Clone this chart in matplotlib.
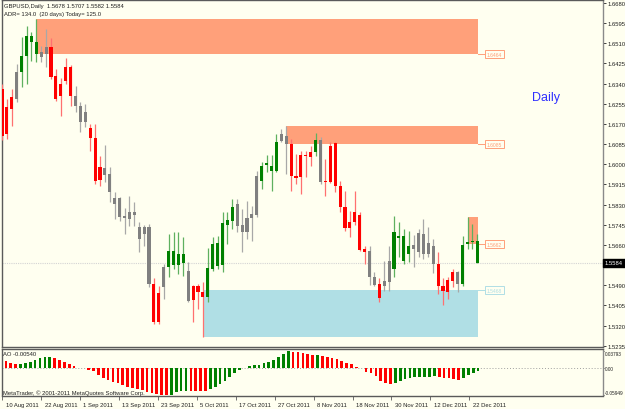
import matplotlib
matplotlib.use("Agg")
import matplotlib.pyplot as plt
import matplotlib.transforms as mtransforms
from matplotlib.patches import Rectangle
import numpy as np
import pandas as pd

# ---------------- data ----------------
dates = pd.bdate_range("2011-08-10", periods=98)

opens = [1.6318, 1.6242, 1.6284, 1.6275, 1.6389, 1.6457, 1.6516, 1.6465, 1.6474, 1.6465,
         1.6495, 1.6372, 1.6339, 1.6410, 1.6410, 1.6288, 1.6246, 1.6178, 1.6153, 1.6111,
         1.5989, 1.5955, 1.5959, 1.5833, 1.5858, 1.5782, 1.5769, 1.5799, 1.5736, 1.5706,
         1.5736, 1.5495, 1.5457, 1.5482, 1.5567, 1.5575, 1.5575, 1.5584, 1.5550, 1.5487,
         1.5487, 1.5461, 1.5440, 1.5558, 1.5571, 1.5575, 1.5744, 1.5761, 1.5833, 1.5714,
         1.5714, 1.5773, 1.5786, 1.5930, 1.5997, 1.5972, 1.5972, 1.6098, 1.6119, 1.6086,
         1.5951, 1.6039, 1.6039, 1.6052, 1.6052, 1.6102, 1.5930, 1.6077, 1.6090, 1.5908,
         1.5820, 1.5757, 1.5799, 1.5786, 1.5643, 1.5634, 1.5491, 1.5495, 1.5487, 1.5504,
         1.5558, 1.5689, 1.5592, 1.5622, 1.5643, 1.5630, 1.5706, 1.5622, 1.5655, 1.5579,
         1.5487, 1.5512, 1.5546, 1.5495, 1.5495, 1.5664, 1.5672, 1.5678]
highs = [1.6339, 1.6275, 1.6318, 1.6423, 1.6537, 1.6583, 1.6558, 1.6613, 1.6499, 1.6570,
         1.6533, 1.6402, 1.6364, 1.6448, 1.6419, 1.6330, 1.6263, 1.6254, 1.6170, 1.6170,
         1.6035, 1.6081, 1.5989, 1.5883, 1.5862, 1.5816, 1.5866, 1.5841, 1.5757, 1.5744,
         1.5748, 1.5520, 1.5487, 1.5579, 1.5706, 1.5714, 1.5714, 1.5693, 1.5588, 1.5491,
         1.5495, 1.5504, 1.5647, 1.5693, 1.5698, 1.5799, 1.5799, 1.5854, 1.5854, 1.5811,
         1.5845, 1.5824, 1.5972, 1.6010, 1.6039, 1.6039, 1.6128, 1.6149, 1.6161, 1.6107,
         1.6043, 1.6056, 1.6056, 1.6077, 1.6132, 1.6115, 1.6022, 1.6094, 1.6094, 1.5930,
         1.5887, 1.5803, 1.5887, 1.5799, 1.5655, 1.5655, 1.5546, 1.5520, 1.5592, 1.5655,
         1.5782, 1.5757, 1.5727, 1.5719, 1.5702, 1.5727, 1.5769, 1.5736, 1.5685, 1.5630,
         1.5520, 1.5525, 1.5558, 1.5550, 1.5698, 1.5778, 1.5748, 1.5707]
lows = [1.6102, 1.6107, 1.6161, 1.6263, 1.6326, 1.6339, 1.6436, 1.6431, 1.6431, 1.6410,
        1.6360, 1.6267, 1.6204, 1.6339, 1.6246, 1.6221, 1.6136, 1.6157, 1.6056, 1.5917,
        1.5908, 1.5925, 1.5841, 1.5769, 1.5761, 1.5706, 1.5740, 1.5740, 1.5630, 1.5655,
        1.5482, 1.5326, 1.5326, 1.5432, 1.5525, 1.5558, 1.5537, 1.5529, 1.5419, 1.5335,
        1.5390, 1.5272, 1.5419, 1.5550, 1.5558, 1.5546, 1.5664, 1.5727, 1.5714, 1.5630,
        1.5685, 1.5676, 1.5778, 1.5896, 1.5968, 1.5887, 1.5968, 1.6094, 1.5959, 1.5887,
        1.5917, 1.5875, 1.5946, 1.5993, 1.6035, 1.5917, 1.5866, 1.5921, 1.5883, 1.5799,
        1.5719, 1.5693, 1.5744, 1.5634, 1.5579, 1.5491, 1.5487, 1.5419, 1.5466, 1.5466,
        1.5525, 1.5609, 1.5579, 1.5588, 1.5567, 1.5609, 1.5601, 1.5609, 1.5542, 1.5453,
        1.5407, 1.5432, 1.5482, 1.5461, 1.5487, 1.5643, 1.5643, 1.5582]
closes = [1.6119, 1.6128, 1.6233, 1.6389, 1.6457, 1.6541, 1.6541, 1.6516, 1.6452, 1.6495,
          1.6368, 1.6275, 1.6288, 1.6351, 1.6288, 1.6246, 1.6178, 1.6221, 1.6111, 1.5930,
          1.5934, 1.5984, 1.5883, 1.5858, 1.5778, 1.5773, 1.5799, 1.5786, 1.5685, 1.5736,
          1.5495, 1.5335, 1.5335, 1.5567, 1.5634, 1.5634, 1.5622, 1.5622, 1.5423, 1.5428,
          1.5461, 1.5440, 1.5563, 1.5664, 1.5668, 1.5752, 1.5765, 1.5820, 1.5740, 1.5744,
          1.5773, 1.5790, 1.5951, 1.5993, 1.6005, 1.5993, 1.6094, 1.6128, 1.6086, 1.5951,
          1.5942, 1.5946, 1.6035, 1.6031, 1.6102, 1.5925, 1.5925, 1.5925, 1.5908, 1.5820,
          1.5731, 1.5731, 1.5757, 1.5638, 1.5630, 1.5525, 1.5525, 1.5436, 1.5508, 1.5592,
          1.5714, 1.5698, 1.5698, 1.5655, 1.5660, 1.5710, 1.5622, 1.5668, 1.5579, 1.5487,
          1.5466, 1.5461, 1.5508, 1.5546, 1.5660, 1.5672, 1.5676, 1.5584]
# candle colouring zone per bar: G green, R red, N neutral (grey)
bar_zone = ("RRRNGGGGNN" "RRRRRNNNRR" "RNNNNNNNNN" "NRRNGGGGNR" "RRGGGGGGNN"
            "NNNGGGGNNR" "RRRRGNRRRR" "RRRRRNNRNN" "GGGGNNNNNR" "RRRNGGGG")

ao = [0.0160, 0.0125, 0.0100, 0.0105, 0.0122, 0.0145, 0.0180, 0.0228, 0.0250, 0.0255,
      0.0230, 0.0182, 0.0145, 0.0108, 0.0066, 0.0022, 0.0006, -0.0036, -0.0058, -0.0150,
      -0.0222, -0.0253, -0.0295, -0.0332, -0.0368, -0.0403, -0.0438, -0.0455, -0.0477, -0.0512,
      -0.0548, -0.0575, -0.0588, -0.0595, -0.0585, -0.0528, -0.0505, -0.0490, -0.0495, -0.0500,
      -0.0505, -0.0508, -0.0465, -0.0405, -0.0345, -0.0280, -0.0180, -0.0100, -0.0025, 0.0015,
      0.0045, 0.0070, 0.0085, 0.0120, 0.0145, 0.0195, 0.0265, 0.0330, 0.0379, 0.0372,
      0.0365, 0.0348, 0.0322, 0.0298, 0.0300, 0.0278, 0.0260, 0.0238, 0.0217, 0.0166,
      0.0130, 0.0094, 0.0043, 0.0010, -0.0070, -0.0110, -0.0160, -0.0270, -0.0320, -0.0340,
      -0.0320, -0.0270, -0.0230, -0.0217, -0.0197, -0.0188, -0.0184, -0.0180, -0.0177, -0.0195,
      -0.0208, -0.0217, -0.0230, -0.0245, -0.0220, -0.0145, -0.0100, -0.0054]

# supply / demand rectangles: start bar, top, bottom, labelled level
zone_start = [7, 58, 95, 41]
zone_top = [1.6613, 1.6161, 1.5778, 1.5468]
zone_bottom = [1.6464, 1.6085, 1.5662, 1.5272]
zone_level = [1.6464, 1.6085, 1.5662, 1.5468]
zone_kind = ["supply", "supply", "supply", "demand"]

price_ticks = [1.6680, 1.6595, 1.6510, 1.6425, 1.6340, 1.6255, 1.6170, 1.6085, 1.6000,
               1.5915, 1.5830, 1.5745, 1.5660, 1.5490, 1.5405, 1.5320, 1.5235]
ao_ticks = [0.03793, 0.0, -0.05949]
ao_tick_labels = ["0.03793", "0.00", "-0.05949"]

# ---------------- style ----------------
plt.rcParams["font.family"] = ["Liberation Sans", "DejaVu Sans"]
FS = 4.2

BG = "#FFFFF0"
SPINE = "#5A5A5A"
TXT = "#202020"
body_col = {"G": "#008000", "R": "#FF0000", "N": "#808080"}
wick_col = {"G": "#5FB05F", "R": "#FF7070", "N": "#A8A8A8"}
zone_col = {"supply": "#FFA07A", "demand": "#B0DFE5"}
ZONE_END = 97.2

W, H = 625, 410
fig = plt.figure(figsize=(W / 100, H / 100), dpi=100, facecolor=BG)
ax = fig.add_axes([2 / W, 1 - 348 / H, 601 / W, 347 / H], facecolor=BG)
ax2 = fig.add_axes([2 / W, 1 - 396.5 / H, 601 / W, 46.5 / H], facecolor=BG)

x = np.arange(len(opens))
o = np.array(opens)
hi = np.array(highs)
lo = np.array(lows)
c = np.array(closes)

# zones (behind candles)
for s, t, b, lev, kind in zip(zone_start, zone_top, zone_bottom, zone_level, zone_kind):
    col = zone_col[kind]
    ax.add_patch(Rectangle((s, b), ZONE_END - s, t - b, facecolor=col, edgecolor="none", zorder=1))
    ax.plot([ZONE_END, 98.7], [lev, lev], color=col, lw=0.7, zorder=2)
    ax.text(100.5, lev, f"{lev:.4f}", ha="center", va="center", fontsize=3.6, color=col,
            bbox=dict(boxstyle="square,pad=0.3", fc=BG, ec=col, lw=0.7), zorder=2)

# last price line
ax.axhline(closes[-1], color="#D4D4D4", lw=0.8, ls=(0, (1, 1)), zorder=0.5)

# candles
ax.vlines(x, lo, hi, colors=[wick_col[z] for z in bar_zone], linewidth=0.9, zorder=3)
ax.bar(x, np.maximum(np.abs(c - o), 0.0004), bottom=np.minimum(o, c), width=0.62,
       color=[body_col[z] for z in bar_zone], linewidth=0, zorder=4)

ax.set_xlim(0, 601 / 4.9)
ax.set_ylim(1.52294, 1.66927)
ax.set_xticks([])
ax.yaxis.tick_right()
ax.set_yticks(price_ticks)
ax.set_yticklabels([f"{v:.4f}" for v in price_ticks])
ax.tick_params(axis="y", length=2.5, width=0.6, pad=0.8, labelsize=FS, colors=TXT)
for sp in ax.spines.values():
    sp.set_color(SPINE)
    sp.set_linewidth(1)
ax.spines["right"].set_color("#8A8A8A")

trans = mtransforms.blended_transform_factory(ax.transAxes, ax.transData)
ax.text(1.003, closes[-1], f"{closes[-1]:.4f}", transform=trans, ha="left", va="center",
        fontsize=FS, color="white",
        bbox=dict(boxstyle="square,pad=0.3", fc="black", ec="black"), zorder=6)

# AO histogram
ao_arr = np.array(ao)
ao_cols = ["#FF0000"] + ["#008000" if ao_arr[i] > ao_arr[i - 1] else "#FF0000"
                         for i in range(1, len(ao_arr))]
ax2.axhline(0, color="#A0A0A0", lw=0.7, ls=(0, (1, 2)), zorder=1)
ax2.bar(x, ao_arr, width=0.55, color=ao_cols, linewidth=0, zorder=2)
ax2.set_xlim(0, 601 / 4.9)
ax2.set_ylim(-0.0600, 0.0433)
ax2.yaxis.tick_right()
ax2.set_yticks(ao_ticks)
ax2.set_yticklabels(ao_tick_labels)
ax2.tick_params(axis="y", length=1.0, width=0.6, pad=0.3, labelsize=3.4, colors=TXT)
for lab, va in zip(ax2.get_yticklabels(), ["top", "center", "bottom"]):
    lab.set_va(va)
label_idx = np.arange(0, len(dates), 8)
ax2.set_xticks(label_idx - 0.8)
ax2.tick_params(axis="x", length=3, width=0.6, labelbottom=False, colors=SPINE)
for sp in ax2.spines.values():
    sp.set_color(SPINE)
    sp.set_linewidth(1)
ax2.spines["right"].set_color("#8A8A8A")

dtrans = mtransforms.blended_transform_factory(ax2.transData, ax2.transAxes)
for i in label_idx:
    d = dates[i]
    ax2.text(i - 0.06, -0.185, f"{d.day} {d:%b %Y}", transform=dtrans, ha="left",
             va="center", fontsize=FS, color=TXT)

# header / captions
fig.text(4 / W, 1 - 6.5 / H, "GBPUSD,Daily  1.5678 1.5707 1.5582 1.5584", fontsize=FS,
         va="center", ha="left", color=TXT)
fig.text(4 / W, 1 - 14.5 / H, "ADR= 134.0  (20 days) Today= 125.0", fontsize=FS,
         va="center", ha="left", color=TXT)
fig.text(546 / W, 1 - 98 / H, "Daily", fontsize=9, color="#3030FF", ha="center", va="center")
fig.text(3 / W, 1 - 355 / H, "AO -0.00540", fontsize=FS, va="center", ha="left", color=TXT)
fig.text(3 / W, 1 - 393 / H, "MetaTrader, \u00a9 2001-2011 MetaQuotes Software Corp.", fontsize=FS,
         va="center", ha="left", color=TXT)

fig.savefig("out.png", dpi=100, facecolor=BG)
